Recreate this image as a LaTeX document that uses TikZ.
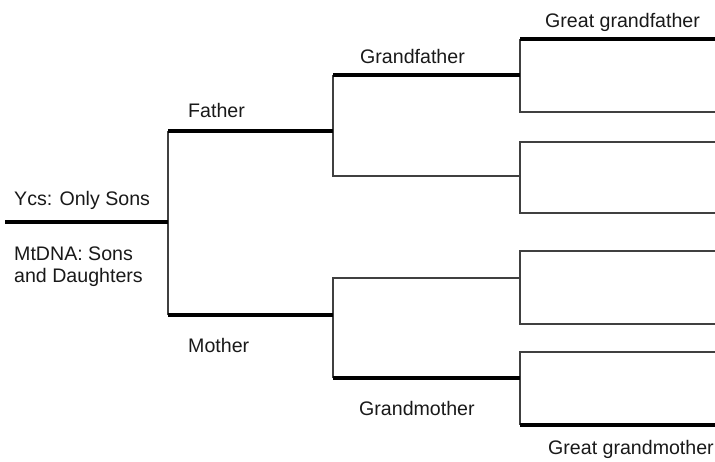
\documentclass[tikz,border=0pt]{standalone}
\usepackage{fontspec}
\setmainfont{Liberation Sans}
\begin{document}
\begin{tikzpicture}[x=1pt,y=-1pt,
  thinln/.style={draw=black!75, line width=1.4pt},
  thickln/.style={draw=black, line width=3.8pt},
  lbl/.style={anchor=base west, inner sep=0pt, text=black!90, font=\fontsize{19.6}{22}\selectfont}]
\useasboundingbox (0,0) rectangle (715,461);
% coordinates
\coordinate (r0) at (5,222);
\coordinate (r1) at (168,222);
\coordinate (fa0) at (168,131);
\coordinate (fa1) at (333,131);
\coordinate (mo0) at (168,315);
\coordinate (mo1) at (333,315);
\coordinate (gf0) at (333,75);
\coordinate (gf1) at (520,75);
\coordinate (gfm0) at (333,176);
\coordinate (gfm1) at (520,176);
\coordinate (gmf0) at (333,278);
\coordinate (gmf1) at (520,278);
\coordinate (gm0) at (333,378);
\coordinate (gm1) at (520,378);
\coordinate (b1t) at (520,39);  \coordinate (b1te) at (715,39);
\coordinate (b1b) at (520,112); \coordinate (b1be) at (715,112);
\coordinate (b2t) at (520,142); \coordinate (b2te) at (715,142);
\coordinate (b2b) at (520,213); \coordinate (b2be) at (715,213);
\coordinate (b3t) at (520,251); \coordinate (b3te) at (715,251);
\coordinate (b3b) at (520,324); \coordinate (b3be) at (715,324);
\coordinate (b4t) at (520,352); \coordinate (b4te) at (715,352);
\coordinate (b4b) at (520,425); \coordinate (b4be) at (715,425);
% thin lines
\draw[thinln] (fa0) -- (mo0);
\draw[thinln] (gf0) -- (gfm0) -- (gfm1);
\draw[thinln] (gm0) -- (gmf0) -- (gmf1);
\draw[thinln] (b1be) -- (b1b) -- (b1t);
\draw[thinln] (b2te) -- (b2t) -- (b2b) -- (b2be);
\draw[thinln] (b3te) -- (b3t) -- (b3b) -- (b3be);
\draw[thinln] (b4te) -- (b4t) -- (b4b);
% thick lines
\draw[thickln] (r0) -- (r1);
\draw[thickln] (fa0) -- (fa1);
\draw[thickln] (mo0) -- (mo1);
\draw[thickln] (gf0) -- (gf1);
\draw[thickln] (gm0) -- (gm1);
\draw[thickln] (b1t) -- (b1te);
\draw[thickln] (b4b) -- (b4be);
% labels
\node[lbl] (ycs) at (14,205) {Ycs: Only Sons};
\node[lbl] (mt1) at (14,260) {MtDNA: Sons};
\node[lbl] (mt2) at (14,282) {and Daughters};
\node[lbl] (father) at (188,117) {Father};
\node[lbl] (mother) at (188,352) {Mother};
\node[lbl] (gfl) at (360,63) {Grandfather};
\node[lbl] (gml) at (359,415) {Grandmother};
\node[lbl] (ggf) at (545,27) {Great grandfather};
\node[lbl] (ggm) at (548,454) {Great grandmother};
\end{tikzpicture}
\end{document}
